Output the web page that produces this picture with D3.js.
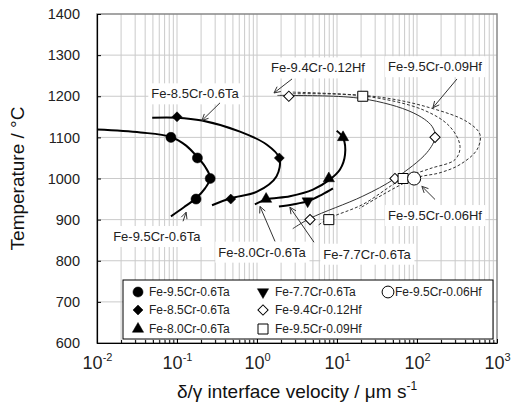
<!DOCTYPE html>
<html>
<head>
<meta charset="utf-8">
<script src="https://cdn.jsdelivr.net/npm/d3@7"></script>
<style>
  body { margin: 0; background: #fff; }
  svg { font-family: "Liberation Sans", Arial, sans-serif; }
</style>
</head>
<body>
<div id="chart"></div>
<script>
// tick values
var xDecades = [0.01, 0.1, 1, 10, 100, 1000];
var xExponents = ["-2", "-1", "0", "1", "2", "3"];
var yTicks = [600, 700, 800, 900, 1000, 1100, 1200, 1300, 1400];

// measured points [velocity um/s, temperature C]
var ta95Points = [[0.084, 1100], [0.18, 1050], [0.26, 1000], [0.173, 950]];
var ta85Points = [[0.1, 1150], [1.9, 1050], [0.47, 950]];
var ta80Points = [[1.3, 950], [7.9, 1000], [11.9, 1100]];
var ta77Points = [[4.3, 945]];
var hf12Points = [[2.5, 1200], [168, 1100], [53, 1000], [4.6, 900]];
var hf09Points = [[21, 1200], [67, 1000], [7.9, 900]];
var hf06Points = [[92, 1000]];

// fitted curves
var ta95Curve = [[0.01, 1119], [0.035, 1112], [0.084, 1101], [0.13, 1080], [0.18, 1052],
  [0.224, 1029], [0.26, 1001], [0.224, 976], [0.173, 952], [0.122, 930], [0.084, 908]];
var ta85Curve = [[0.049, 1148], [0.1, 1148], [0.205, 1141], [0.613, 1114], [1.33, 1082],
  [1.9, 1050], [1.75, 1005], [1.0, 968], [0.47, 952], [0.274, 935]];
var ta80Curve = [[0.94, 937], [1.3, 949], [2.58, 957], [5.0, 973], [7.94, 996],
  [10.9, 1022], [12.6, 1058], [11.9, 1099], [9.9, 1116]];
var ta77Curve = [[1.88, 932], [2.8, 937], [4.34, 945], [6.5, 961], [8.9, 976]];
var hf12Curve = [[1.8, 1202], [2.5, 1202], [21, 1194], [89, 1160], [154, 1127], [168, 1100],
  [133, 1063], [53, 1000], [21, 957], [4.6, 903], [2.8, 878]];
var hf09Curve = [[2.8, 1206], [21, 1201], [119, 1167], [258, 1126], [345, 1078], [299, 1046],
  [145, 1024], [67, 1000], [21, 937], [7.9, 903], [5.6, 884]];
var hf06Curve = [[2.8, 1210], [34, 1198], [145, 1172], [422, 1138], [613, 1107], [562, 1070],
  [345, 1034], [194, 1014], [92, 1000], [19, 927]];

// legend
var legendNames = ["Fe-9.5Cr-0.6Ta", "Fe-8.5Cr-0.6Ta", "Fe-8.0Cr-0.6Ta",
  "Fe-7.7Cr-0.6Ta", "Fe-9.4Cr-0.12Hf", "Fe-9.5Cr-0.09Hf", "Fe-9.5Cr-0.06Hf"];

// annotation labels: text position, arrow tail, arrow tip (data coords)
var labelTexts = ["Fe-8.5Cr-0.6Ta", "Fe-9.5Cr-0.6Ta", "Fe-8.0Cr-0.6Ta", "Fe-7.7Cr-0.6Ta",
  "Fe-9.5Cr-0.06Hf", "Fe-9.4Cr-0.12Hf", "Fe-9.5Cr-0.09Hf"];
var labelAt = [[0.168, 1206], [0.056, 859], [1.155, 821], [23.7, 816], [168, 910], [5.79, 1269], [168, 1272]];
var arrowFrom = [[0.345, 1184], [0.119, 896], [1.68, 847], [5.16, 845], [168, 949], [2.74, 1242], [316, 1242]];
var arrowTo = [[0.205, 1141], [0.13, 918], [1.09, 932], [2.58, 930], [115, 981], [1.63, 1208], [158, 1172]];

var W = 513, H = 409;
var margin = {left: 97, top: 14, right: 16, bottom: 66};

var svg = d3.select("#chart").append("svg")
  .attr("width", W)
  .attr("height", H);

var x = d3.scaleLog().domain([0.01, 1000]).range([margin.left, W - margin.right]);
var y = d3.scaleLinear().domain([600, 1400]).range([H - margin.bottom, margin.top]);

var gridColor = "#cacaca";

// minor + major vertical grid
var minorX = [];
xDecades.slice(0, -1).forEach(function(d) {
  for (var k = 2; k <= 9; k++) minorX.push(d * k);
});
svg.append("g").selectAll("line").data(minorX.concat(xDecades.slice(1, -1))).enter()
  .append("line")
  .attr("x1", function(d) { return x(d); })
  .attr("x2", function(d) { return x(d); })
  .attr("y1", y(600)).attr("y2", y(1400))
  .style("stroke", gridColor).style("stroke-width", 1);

svg.append("g").selectAll("line").data(yTicks.slice(1, -1)).enter()
  .append("line")
  .attr("x1", x(0.01)).attr("x2", x(1000))
  .attr("y1", function(d) { return y(d); })
  .attr("y2", function(d) { return y(d); })
  .style("stroke", gridColor).style("stroke-width", 1);

// frame (top/right gray)
svg.append("rect")
  .attr("x", x(0.01)).attr("y", y(1400))
  .attr("width", x(1000) - x(0.01)).attr("height", y(600) - y(1400))
  .style("fill", "none").style("stroke", "#888").style("stroke-width", 1.5);

// axes
var yAxis = svg.append("g")
  .attr("transform", "translate(" + x(0.01) + ",0)")
  .call(d3.axisLeft(y).tickValues(yTicks).tickFormat(d3.format("d"))
    .tickSize(-4).tickPadding(17).tickSizeOuter(0));
yAxis.select(".domain").style("stroke", "#000").style("stroke-width", 1.2);
yAxis.selectAll("text").style("font-size", "14.5px").style("fill", "#222")
  .style("font-family", "'Liberation Sans', Arial, sans-serif");

var xAxis = svg.append("g")
  .attr("transform", "translate(0," + y(600) + ")")
  .call(d3.axisBottom(x).tickValues(xDecades).tickSize(-4).tickPadding(12).tickSizeOuter(0)
    .tickFormat(function() { return ""; }));
xAxis.select(".domain").style("stroke", "#000").style("stroke-width", 1.2);
xAxis.selectAll(".tick text").each(function(d, i) {
  var t = d3.select(this).attr("dy", null).attr("y", 26)
    .style("font-size", "18px").style("fill", "#222")
    .style("font-family", "'Liberation Sans', Arial, sans-serif");
  t.append("tspan").text("10");
  t.append("tspan").attr("dy", -8).style("font-size", "11px").text(xExponents[i]);
});
svg.append("g")
  .attr("transform", "translate(0," + y(600) + ")")
  .call(d3.axisBottom(x).tickValues(minorX).tickSize(-3).tickFormat(function() { return ""; }))
  .call(function(g) { g.select(".domain").remove(); });

// axis titles
svg.append("text")
  .attr("transform", "translate(24," + ((y(600) + y(1400)) / 2) + ") rotate(-90)")
  .attr("text-anchor", "middle")
  .style("font-size", "19px").style("fill", "#111")
  .text("Temperature / \u00B0C");

var xt = svg.append("text")
  .attr("x", (x(0.01) + x(1000)) / 2).attr("y", 398)
  .attr("text-anchor", "middle")
  .style("font-size", "19px").style("fill", "#111");
xt.append("tspan").text("\u03B4/\u03B3 interface velocity / \u03BCm s");
xt.append("tspan").attr("dy", -8).style("font-size", "12px").text("-1");

// curves
var line = d3.line()
  .x(function(d) { return x(d[0]); })
  .y(function(d) { return y(d[1]); })
  .curve(d3.curveCatmullRom.alpha(0.5));

var curves = [
  [ta95Curve, 2, null, "#000"],
  [ta85Curve, 2, null, "#000"],
  [ta80Curve, 2, null, "#000"],
  [ta77Curve, 2, null, "#000"],
  [hf12Curve, 1, null, "#333"],
  [hf09Curve, 1, "3,2", "#333"],
  [hf06Curve, 1, "3,2", "#333"]
];
curves.forEach(function(c) {
  svg.append("path")
    .attr("d", line(c[0]))
    .style("fill", "none")
    .style("stroke", c[3])
    .style("stroke-width", c[1])
    .style("stroke-dasharray", c[2]);
});

// markers
var markerStyles = [
  {type: d3.symbolCircle, size: 80, rot: 0, fill: "#000"},
  {type: d3.symbolSquare, size: 50, rot: 45, fill: "#000"},
  {type: d3.symbolTriangle, size: 55, rot: 0, fill: "#000"},
  {type: d3.symbolTriangle, size: 55, rot: 180, fill: "#000"},
  {type: d3.symbolSquare, size: 52, rot: 45, fill: "#fff"},
  {type: d3.symbolSquare, size: 100, rot: 0, fill: "#fff"},
  {type: d3.symbolCircle, size: 135, rot: 0, fill: "#fff"}
];
var pointSets = [ta95Points, ta85Points, ta80Points, ta77Points, hf12Points, hf09Points, hf06Points];

function drawMarker(g, st, px, py) {
  g.append("path")
    .attr("d", d3.symbol().type(st.type).size(st.size)())
    .attr("transform", "translate(" + px + "," + py + ") rotate(" + st.rot + ")")
    .style("fill", st.fill)
    .style("stroke", "#000")
    .style("stroke-width", st.fill === "#fff" ? 1 : 0.5);
}
pointSets.forEach(function(pts, i) {
  var g = svg.append("g");
  pts.forEach(function(p) { drawMarker(g, markerStyles[i], x(p[0]), y(p[1])); });
});

// annotation labels with arrows
function arrow(g, x1, y1, x2, y2) {
  g.append("line").attr("x1", x1).attr("y1", y1).attr("x2", x2).attr("y2", y2)
    .style("stroke", "#333").style("stroke-width", 1);
  var a = Math.atan2(y2 - y1, x2 - x1), L = 7, s = 0.45;
  g.append("path")
    .attr("d", "M" + (x2 - L * Math.cos(a - s)) + "," + (y2 - L * Math.sin(a - s)) +
      "L" + x2 + "," + y2 +
      "L" + (x2 - L * Math.cos(a + s)) + "," + (y2 - L * Math.sin(a + s)))
    .style("fill", "none").style("stroke", "#333").style("stroke-width", 1);
}
labelTexts.forEach(function(txt, i) {
  var g = svg.append("g");
  var bg = g.append("rect").style("fill", "#fff");
  var t = g.append("text")
    .attr("x", x(labelAt[i][0])).attr("y", y(labelAt[i][1]))
    .attr("dy", "0.35em")
    .attr("text-anchor", "middle")
    .style("font-size", "13px").style("fill", "#222")
    .text(txt);
  var bb = t.node().getBBox();
  bg.attr("x", bb.x - 3).attr("y", bb.y - 3).attr("width", bb.width + 6).attr("height", bb.height + 6);
  arrow(g, x(arrowFrom[i][0]), y(arrowFrom[i][1]), x(arrowTo[i][0]), y(arrowTo[i][1]));
});

// legend
var lg = svg.append("g");
lg.append("rect")
  .attr("x", 123).attr("y", 280).attr("width", 370).attr("height", 59)
  .style("fill", "#fff").style("stroke", "#000").style("stroke-width", 1);
var legCols = [[138, 149], [263, 275], [388, 395]];
var legRows = [292, 310, 329];
var legPos = [[0, 0], [0, 1], [0, 2], [1, 0], [1, 1], [1, 2], [2, 0]];
legendNames.forEach(function(name, i) {
  var c = legCols[legPos[i][0]], r = legRows[legPos[i][1]];
  var st = Object.assign({}, markerStyles[i]);
  if (i === 6) st.size = 110;
  drawMarker(lg, st, c[0], r);
  lg.append("text")
    .attr("x", c[1]).attr("y", r).attr("dy", "0.35em")
    .style("font-size", "12px").style("fill", "#222")
    .text(name);
});
</script>
</body>
</html>
